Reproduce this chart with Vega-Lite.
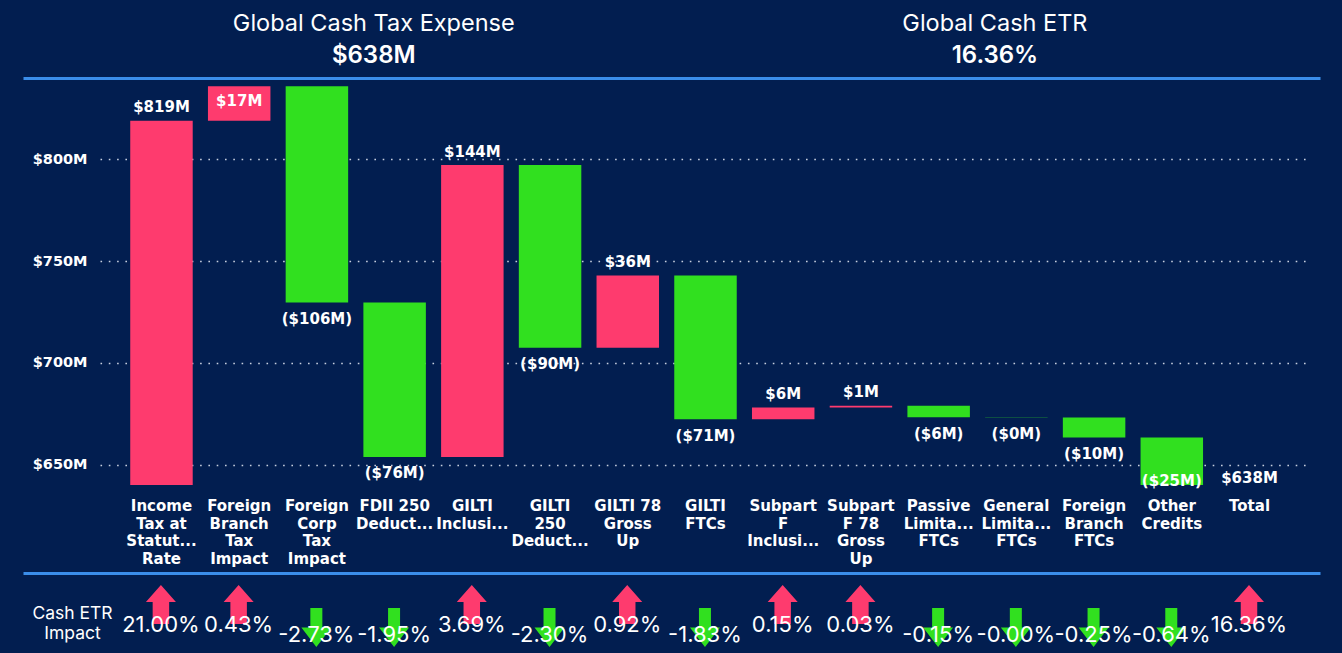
{
  "$schema": "https://vega.github.io/schema/vega-lite/v6.json",
  "background": "#021E50",
  "padding": {"left": 23, "top": 0, "right": 23, "bottom": 0},
  "bounds": "full",
  "spacing": 0,
  "config": {
    "view": {"stroke": null},
    "axis": {"grid": false, "domain": false, "ticks": false, "tickSize": 0, "title": null, "labelColor": "#FFFFFF"}
  },
  "datasets": {
    "kpis": [
      {"kpi": "Global Cash Tax Expense", "value": "$638M"},
      {"kpi": "Global Cash ETR", "value": "16.36%"}
    ],
    "steps": [
      {"step": "Income Tax at Statutory Rate", "kind": "Increase", "start": 0, "end": 819.0, "label": "$819M", "etr": "21.00%"},
      {"step": "Foreign Branch Tax Impact", "kind": "Increase", "start": 819.0, "end": 835.9, "label": "$17M", "etr": "0.43%"},
      {"step": "Foreign Corp Tax Impact", "kind": "Decrease", "start": 835.9, "end": 729.7, "label": "($106M)", "etr": "-2.73%"},
      {"step": "FDII 250 Deduction", "kind": "Decrease", "start": 729.7, "end": 653.8, "label": "($76M)", "etr": "-1.95%"},
      {"step": "GILTI Inclusion", "kind": "Increase", "start": 653.8, "end": 797.2, "label": "$144M", "etr": "3.69%"},
      {"step": "GILTI 250 Deduction", "kind": "Decrease", "start": 797.2, "end": 707.4, "label": "($90M)", "etr": "-2.30%"},
      {"step": "GILTI 78 Gross Up", "kind": "Increase", "start": 707.4, "end": 743.0, "label": "$36M", "etr": "0.92%"},
      {"step": "GILTI FTCs", "kind": "Decrease", "start": 743.0, "end": 672.3, "label": "($71M)", "etr": "-1.83%"},
      {"step": "Subpart F Inclusion", "kind": "Increase", "start": 672.3, "end": 678.1, "label": "$6M", "etr": "0.15%"},
      {"step": "Subpart F 78 Gross Up", "kind": "Increase", "start": 678.1, "end": 679.0, "label": "$1M", "etr": "0.03%"},
      {"step": "Passive Limitation FTCs", "kind": "Decrease", "start": 679.0, "end": 673.3, "label": "($6M)", "etr": "-0.15%"},
      {"step": "General Limitation FTCs", "kind": "Decrease", "start": 673.3, "end": 673.2, "label": "($0M)", "etr": "-0.00%"},
      {"step": "Foreign Branch FTCs", "kind": "Decrease", "start": 673.2, "end": 663.4, "label": "($10M)", "etr": "-0.25%"},
      {"step": "Other Credits", "kind": "Decrease", "start": 663.4, "end": 638.3, "label": "($25M)", "etr": "-0.64%"},
      {"step": "Total", "kind": "Total", "start": 0, "end": 638.3, "label": "$638M", "etr": "16.36%"}
    ]
  },
  "vconcat": [
    {
      "width": 1297,
      "height": 78,
      "data": {"name": "kpis"},
      "encoding": {
        "x": {
          "field": "kpi", "type": "nominal", "sort": null,
          "scale": {"type": "point", "padding": 0.544, "align": 0.519},
          "axis": {"orient": "bottom", "domain": true, "domainColor": "#3B8EEA", "domainWidth": 3, "labels": false, "ticks": false, "title": null}
        }
      },
      "layer": [
        {"mark": {"type": "text", "font": "Inter", "fontSize": 23.5, "color": "#FFFFFF", "baseline": "middle", "dy": -15.5}, "encoding": {"text": {"field": "kpi"}}},
        {"mark": {"type": "text", "font": "Inter", "fontSize": 24, "fontWeight": 600, "color": "#FFFFFF", "baseline": "middle", "dy": 16.5}, "encoding": {"text": {"field": "value"}}}
      ]
    },
    {
      "width": 1297,
      "height": 407,
      "data": {"name": "steps"},
      "encoding": {
        "x": {
          "field": "step", "type": "nominal", "sort": null,
          "scale": {"range": [77, 1288], "paddingInner": 0.196, "paddingOuter": 0.389},
          "axis": {
            "orient": "bottom", "labelAngle": 0, "labelFont": "DejaVu Sans", "labelFontWeight": "bold", "labelFontSize": 15,
            "labelColor": "#FFFFFF", "labelPadding": 13.5, "labelLineHeight": 17.5, "labelBaseline": "top", "labelOverlap": false,
            "minExtent": 88, "maxExtent": 88, "domain": false, "ticks": false, "title": null,
            "labelExpr": "{'Income Tax at Statutory Rate':['Income','Tax at','Statut...','Rate'],'Foreign Branch Tax Impact':['Foreign','Branch','Tax','Impact'],'Foreign Corp Tax Impact':['Foreign','Corp','Tax','Impact'],'FDII 250 Deduction':['FDII 250','Deduct...'],'GILTI Inclusion':['GILTI','Inclusi...'],'GILTI 250 Deduction':['GILTI','250','Deduct...'],'GILTI 78 Gross Up':['GILTI 78','Gross','Up'],'GILTI FTCs':['GILTI','FTCs'],'Subpart F Inclusion':['Subpart','F','Inclusi...'],'Subpart F 78 Gross Up':['Subpart','F 78','Gross','Up'],'Passive Limitation FTCs':['Passive','Limita...','FTCs'],'General Limitation FTCs':['General','Limita...','FTCs'],'Foreign Branch FTCs':['Foreign','Branch','FTCs'],'Other Credits':['Other','Credits'],'Total':['Total']}[datum.value]"
          }
        },
        "y": {
          "field": "end", "type": "quantitative",
          "scale": {"domain": [640, 840], "clamp": true, "zero": false, "nice": false},
          "axis": {
            "values": [650, 700, 750, 800], "labelExpr": "'$' + datum.value + 'M'", "offset": -77,
            "labelFont": "DejaVu Sans", "labelFontWeight": "bold", "labelFontSize": 14.5, "labelColor": "#FFFFFF", "labelPadding": 13,
            "grid": true, "gridColor": "#C8CFDE", "gridDash": [1.6, 6.7], "gridWidth": 1.6,
            "domain": false, "ticks": false, "minExtent": 0, "maxExtent": 0, "title": null
          }
        }
      },
      "layer": [
        {
          "mark": {"type": "bar"},
          "encoding": {
            "y": {"field": "start", "type": "quantitative"},
            "y2": {"field": "end"},
            "color": {"field": "kind", "type": "nominal", "scale": {"domain": ["Increase", "Decrease", "Total"], "range": ["#FE3B6E", "#31E01F", "#FE3B6E"]}, "legend": null}
          }
        },
        {
          "transform": [{"filter": "datum.kind == 'Increase' && datum.end <= 825"}],
          "mark": {"type": "text", "font": "DejaVu Sans", "fontWeight": "bold", "fontSize": 15, "color": "#FFFFFF", "baseline": "middle", "dy": -13.5},
          "encoding": {"text": {"field": "label"}}
        },
        {
          "transform": [{"filter": "datum.kind == 'Increase' && datum.end > 825"}],
          "mark": {"type": "text", "font": "DejaVu Sans", "fontWeight": "bold", "fontSize": 15, "color": "#FFFFFF", "baseline": "middle", "dy": 15},
          "encoding": {"text": {"field": "label"}}
        },
        {
          "transform": [{"filter": "datum.kind == 'Decrease' && datum.end >= 645"}],
          "mark": {"type": "text", "font": "DejaVu Sans", "fontWeight": "bold", "fontSize": 15, "color": "#FFFFFF", "baseline": "middle", "dy": 16.3},
          "encoding": {"text": {"field": "label"}}
        },
        {
          "transform": [{"filter": "datum.kind == 'Decrease' && datum.end < 645"}],
          "mark": {"type": "text", "font": "DejaVu Sans", "fontWeight": "bold", "fontSize": 15, "color": "#FFFFFF", "baseline": "middle", "dy": -4},
          "encoding": {"text": {"field": "label"}}
        },
        {
          "transform": [{"filter": "datum.kind == 'Total'"}],
          "mark": {"type": "text", "font": "DejaVu Sans", "fontWeight": "bold", "fontSize": 15, "color": "#FFFFFF", "baseline": "middle", "dy": -7.5},
          "encoding": {"text": {"field": "label"}}
        }
      ]
    },
    {
      "width": 1297,
      "height": 80,
      "data": {"name": "steps"},
      "encoding": {
        "x": {
          "field": "step", "type": "nominal", "sort": null,
          "scale": {"type": "band", "paddingInner": 0, "paddingOuter": 0.844, "align": 0.755},
          "axis": {"orient": "top", "domain": true, "domainColor": "#3B8EEA", "domainWidth": 3, "labels": false, "ticks": false, "title": null}
        },
        "y": {
          "datum": "Cash ETR Impact", "type": "nominal",
          "scale": {"paddingInner": 0, "paddingOuter": 0},
          "axis": {
            "orient": "left", "labelExpr": "{'Cash ETR Impact': ['Cash ETR', 'Impact']}[datum.value]",
            "labelAlign": "center", "labelBaseline": "middle", "labelPadding": -49, "labelLineHeight": 20,
            "labelFont": "Inter", "labelFontSize": 17.5, "labelColor": "#FFFFFF",
            "ticks": false, "domain": false, "minExtent": 0, "maxExtent": 0, "title": null
          }
        }
      },
      "layer": [
        {
          "mark": {"type": "point", "filled": true, "size": 900, "opacity": 1, "strokeWidth": 0},
          "encoding": {
            "shape": {"field": "kind", "type": "nominal", "legend": null, "scale": {"domain": ["Increase", "Decrease", "Total"], "range": ["M0,-1.867 L1,-0.737 L0.55,-0.737 L0.55,0.733 L-0.55,0.733 L-0.55,-0.737 L-1,-0.737 Z", "M-0.4,-0.333 L0.4,-0.333 L0.4,0.967 L1,0.967 L0,2.267 L-1,0.967 L-0.4,0.967 Z", "M0,-1.867 L1,-0.737 L0.55,-0.737 L0.55,0.733 L-0.55,0.733 L-0.55,-0.737 L-1,-0.737 Z"]}},
            "color": {"field": "kind", "type": "nominal", "legend": null, "scale": {"domain": ["Increase", "Decrease", "Total"], "range": ["#FE3B6E", "#31E01F", "#FE3B6E"]}}
          }
        },
        {
          "transform": [{"filter": "datum.kind != 'Decrease'"}],
          "mark": {"type": "text", "font": "Inter", "fontSize": 22, "color": "#FFFFFF", "baseline": "middle", "dy": 11.5},
          "encoding": {"text": {"field": "etr"}}
        },
        {
          "transform": [{"filter": "datum.kind == 'Decrease'"}],
          "mark": {"type": "text", "font": "Inter", "fontSize": 22, "color": "#FFFFFF", "baseline": "middle", "dy": 21.5},
          "encoding": {"text": {"field": "etr"}}
        }
      ]
    }
  ]
}
